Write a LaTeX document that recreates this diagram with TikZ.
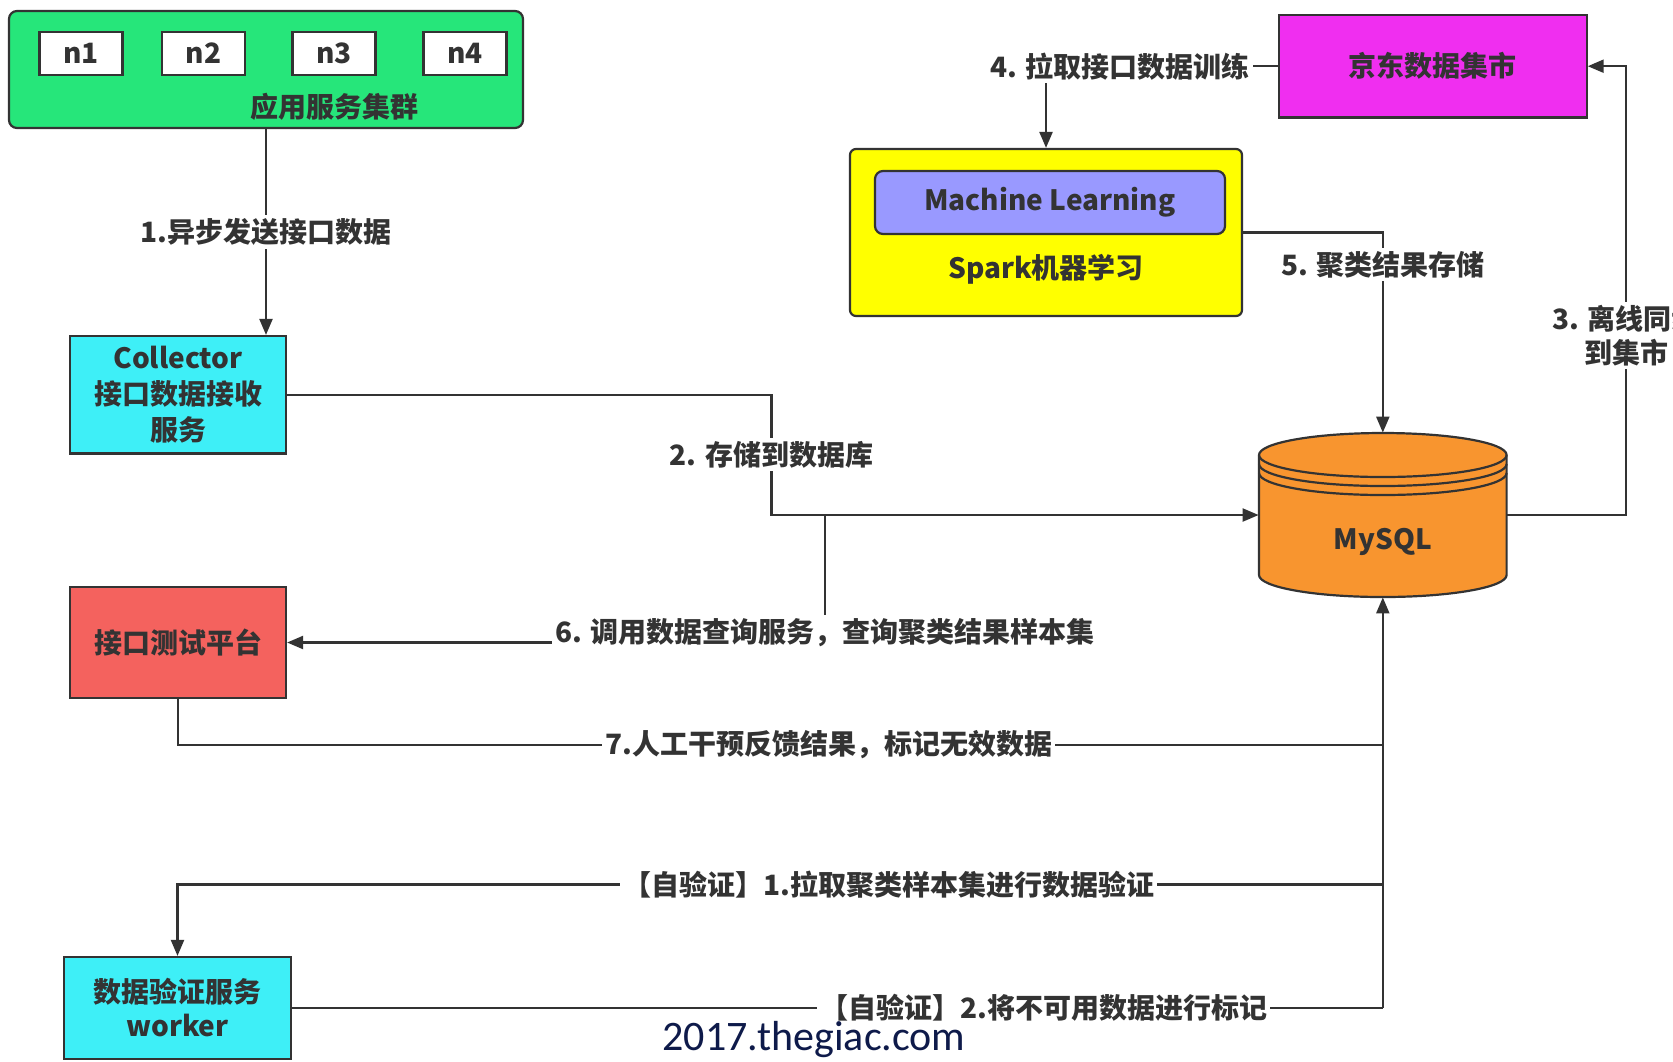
\documentclass[tikz,border=0pt]{standalone}
\usepackage{fontspec}
\setmainfont{Noto Sans CJK SC}
\newfontfamily\wmfont{Carlito}
\usetikzlibrary{arrows.meta}
\definecolor{clgreen}{HTML}{26E67A}
\definecolor{clcyan}{HTML}{3EEFF7}
\definecolor{clred}{HTML}{F4625E}
\definecolor{clorange}{HTML}{F8952F}
\definecolor{clyellow}{HTML}{FFFF00}
\definecolor{clmag}{HTML}{F02EF0}
\definecolor{cllav}{HTML}{9999FF}
\definecolor{dline}{HTML}{333333}
\definecolor{wmblue}{HTML}{0E1A4A}
\begin{document}
\begin{tikzpicture}[x=0.5pt,y=0.5pt,yscale=-1,xscale=1,
  every node/.style={font=\bfseries\fontsize{14pt}{18pt}\selectfont,text=dline},
  box/.style={draw=dline,line width=1.1pt,align=center,inner sep=0pt},
  nbox/.style={box,fill=white,minimum width=41.5pt,minimum height=21.5pt},
  lbl/.style={fill=white,inner sep=1.5pt,align=center},
  conn/.style={draw=dline,line width=1.1pt},
  tip/.style={-{Triangle[length=8pt,width=6.5pt]}}]
\useasboundingbox[fill=white] (0,0) rectangle (1673,1061);

\node[box,fill=clgreen,rounded corners=4pt,minimum width=257pt,minimum height=58.5pt] (cluster) at (266,69.5) {};
\foreach \i/\x in {1/81,2/203.5,3/334,4/465}
  \node[nbox] (n\i) at (\x,53.5) {n\i};
\node (clustertxt) at (334,107) {应用服务集群};

\node[box,fill=clcyan,minimum width=108pt,minimum height=58.75pt] (coll) at (178,394.75) {Collector\\接口数据接收\\服务};
\node[box,fill=clred,minimum width=108pt,minimum height=55.5pt] (test) at (178,642.5) {接口测试平台};
\node[box,fill=clcyan,minimum width=113.5pt,minimum height=51pt,font=\bfseries\fontsize{14pt}{17pt}\selectfont] (worker) at (177.5,1008) {数据验证服务\\worker};
\node[box,fill=clmag,minimum width=153.8pt,minimum height=51.2pt] (jd) at (1432.8,66.2) {京东数据集市};
\node[box,fill=clyellow,rounded corners=3pt,minimum width=196pt,minimum height=83.5pt] (spark) at (1046,232.5) {};
\node[box,fill=cllav,rounded corners=4pt,minimum width=175pt,minimum height=31.5pt] (ml) at (1050,202.5) {Machine Learning};
\node (sparktxt) at (1046,269) {Spark机器学习};

\node[minimum width=123.8pt,minimum height=82pt,inner sep=0pt] (mysql) at (1382.8,515) {};
\draw[conn,fill=clorange] (1259,455) -- (1259,575) arc[start angle=180,end angle=0,x radius=123.8,y radius=22] -- (1506.6,455) arc[start angle=0,end angle=-180,x radius=123.8,y radius=22] -- cycle;
\foreach \y in {455,464,473}
  \draw[conn] (1259,\y) arc[start angle=180,end angle=0,x radius=123.8,y radius=22];
\node (mysqltxt) at (1382.8,542) {MySQL};

\coordinate (b2) at (771.4,515);
\coordinate (j6) at (824.8,515);
\coordinate (c3) at (1626,515);
\coordinate (t7) at (1382.8,744.7);
\coordinate (t1) at (1382.8,884.5);
\coordinate (t2) at (1382.8,1008);

\draw[conn,tip] (cluster.south) -- (cluster.south |- coll.north) node[lbl,midway] {1.异步发送接口数据};
\draw[conn,tip] (coll.east) -| (b2) node[lbl,pos=0.75] {2. 存储到数据库} -- (mysql.west);
\draw[conn,tip] (mysql.east) -- (c3) |- (jd.east) node[lbl,pos=0.2,font=\bfseries\fontsize{14pt}{17pt}\selectfont] {3. 离线同步\\到集市};
\draw[conn,tip] (jd.west) -| (spark.north) node[lbl,pos=0.34] {4. 拉取接口数据训练};
\draw[conn,tip] (spark.east) -| (mysql.north) node[lbl,pos=0.58] {5. 聚类结果存储};
\draw[conn,tip] (j6) |- (test.east) node[lbl,pos=0.5,anchor=base] {6. 调用数据查询服务，查询聚类结果样本集};
\draw[conn] (test.south) |- (t7) node[lbl,pos=0.77] {7.人工干预反馈结果，标记无效数据};
\draw[conn,tip] (t2) -- (mysql.south);
\draw[conn,tip] (t1) -| (worker.north) node[lbl,pos=0.205] {【自验证】1.拉取聚类样本集进行数据验证};
\draw[conn] (worker.east) -- (t2) node[lbl,pos=0.689] {【自验证】2.将不可用数据进行标记};

\node[text=wmblue,font=\wmfont\fontsize{21pt}{24pt}\selectfont] (wm) at (814,1040) {2017.thegiac.com};
\end{tikzpicture}
\end{document}
